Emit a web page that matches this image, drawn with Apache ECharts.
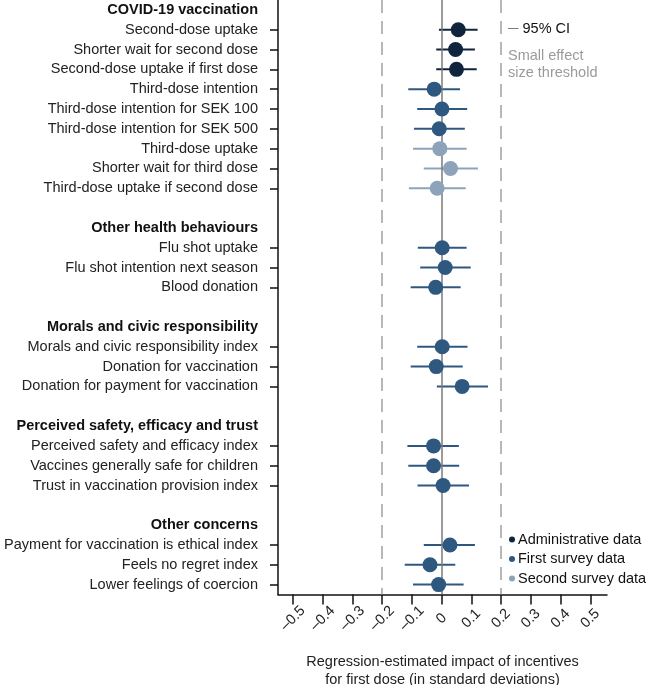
<!DOCTYPE html>
<html>
<head>
<meta charset="utf-8">
<script src="https://cdn.jsdelivr.net/npm/echarts@6/dist/echarts.min.js"></script>
<style>html,body{margin:0;padding:0;background:#fff}#c{width:649px;height:685px}</style>
</head>
<body>
<div id="c"></div>
<script>
// ---- Data ----
const rowLabels = [
  'COVID-19 vaccination',
  'Second-dose uptake',
  'Shorter wait for second dose',
  'Second-dose uptake if first dose',
  'Third-dose intention',
  'Third-dose intention for SEK 100',
  'Third-dose intention for SEK 500',
  'Third-dose uptake',
  'Shorter wait for third dose',
  'Third-dose uptake if second dose',
  '',
  'Other health behaviours',
  'Flu shot uptake',
  'Flu shot intention next season',
  'Blood donation',
  '',
  'Morals and civic responsibility',
  'Morals and civic responsibility index',
  'Donation for vaccination',
  'Donation for payment for vaccination',
  '',
  'Perceived safety, efficacy and trust',
  'Perceived safety and efficacy index',
  'Vaccines generally safe for children',
  'Trust in vaccination provision index',
  '',
  'Other concerns',
  'Payment for vaccination is ethical index',
  'Feels no regret index',
  'Lower feelings of coercion'
];
const groupHeaders = ['COVID-19 vaccination','Other health behaviours','Morals and civic responsibility','Perceived safety, efficacy and trust','Other concerns'];

const adminOutcomes = ['Second-dose uptake','Shorter wait for second dose','Second-dose uptake if first dose'];
const adminEst = [0.056, 0.047, 0.050];
const adminLo  = [-0.009, -0.018, -0.018];
const adminHi  = [0.121, 0.112, 0.118];

const firstOutcomes = ['Third-dose intention','Third-dose intention for SEK 100','Third-dose intention for SEK 500',
  'Flu shot uptake','Flu shot intention next season','Blood donation',
  'Morals and civic responsibility index','Donation for vaccination','Donation for payment for vaccination',
  'Perceived safety and efficacy index','Vaccines generally safe for children','Trust in vaccination provision index',
  'Payment for vaccination is ethical index','Feels no regret index','Lower feelings of coercion'];
const firstEst = [-0.025, 0.001, -0.008, 0.002, 0.012, -0.020, 0.002, -0.018, 0.069, -0.027, -0.027, 0.005, 0.028, -0.039, -0.010];
const firstLo  = [-0.112, -0.082, -0.093, -0.080, -0.072, -0.104, -0.082, -0.104, -0.016, -0.115, -0.112, -0.081, -0.060, -0.124, -0.096];
const firstHi  = [0.062, 0.086, 0.078, 0.084, 0.098, 0.064, 0.087, 0.071, 0.156, 0.058, 0.059, 0.092, 0.112, 0.046, 0.074];

const secondOutcomes = ['Third-dose uptake','Shorter wait for third dose','Third-dose uptake if second dose'];
const secondEst = [-0.006, 0.030, -0.015];
const secondLo  = [-0.096, -0.060, -0.110];
const secondHi  = [0.084, 0.122, 0.081];

const xTickValues = [-0.5, -0.4, -0.3, -0.2, -0.1, 0, 0.1, 0.2, 0.3, 0.4, 0.5];
const thresholdValues = [-0.2, 0.2];

// ---- Build ----
const FONT = '"Liberation Sans", Arial, sans-serif';
const FS = 14.5;
const C_ADMIN = '#10243d', C_FIRST = '#2f5880', C_SECOND = '#8ca3ba';

function rowIdx(name){ return rowLabels.indexOf(name); }
function isItem(i){ return rowLabels[i] !== '' && groupHeaders.indexOf(rowLabels[i]) < 0; }

function pointsData(outs, est){ return outs.map((o,i)=>[est[i], rowIdx(o)]); }
function ciData(outs, lo, hi){ return outs.map((o,i)=>[lo[i], hi[i], rowIdx(o)]); }

function ciSeries(name, outs, lo, hi, color){
  return {
    type: 'custom', name: name + ' CI', silent: true, z: 2,
    encode: {x: [0,1], y: 2},
    data: ciData(outs, lo, hi),
    renderItem: function(params, api){
      const a = api.coord([api.value(0), api.value(2)]);
      const b = api.coord([api.value(1), api.value(2)]);
      return {type:'line', shape:{x1:a[0], y1:a[1], x2:b[0], y2:b[1]},
              style:{stroke: color, lineWidth: 2}};
    }
  };
}
function ptSeries(name, outs, est, color){
  return {
    type: 'scatter', name: name, z: 5, symbol: 'circle', symbolSize: 15,
    itemStyle: {color: color, opacity: 1},
    data: pointsData(outs, est)
  };
}

const chart = echarts.init(document.getElementById('c'), null, {renderer: 'canvas'});
chart.setOption({
  animation: false,
  textStyle: {fontFamily: FONT},
  grid: {left: 278, top: 0, width: 329, height: 594.5, containLabel: false, outerBoundsMode: 'none'},
  xAxis: {
    type: 'value', min: -0.55, max: 0.556,
    splitLine: {show: false},
    axisLine: {show: true, onZero: false, lineStyle: {color: '#111', width: 1.5}},
    axisTick: {show: true, length: 10, customValues: xTickValues, lineStyle: {color: '#111', width: 1.5}},
    axisLabel: {
      customValues: xTickValues, rotate: 45, margin: 24, align: 'center', verticalAlign: 'middle',
      fontSize: FS, color: '#222', fontFamily: FONT,
      formatter: function(v){ const r = Math.round(v*10)/10; if (r === 0) return '0'; return r < 0 ? '\u2013' + Math.abs(r) : String(r); }
    },
    name: 'Regression-estimated impact of incentives\nfor first dose (in standard deviations)',
    nameLocation: 'middle', nameGap: 58,
    nameTextStyle: {fontSize: FS, color: '#222', lineHeight: 18, fontFamily: FONT}
  },
  yAxis: {
    type: 'category', inverse: true, data: rowLabels, boundaryGap: true,
    axisLine: {show: true, onZero: false, lineStyle: {color: '#111', width: 1.5}},
    axisTick: {show: true, alignWithLabel: true, length: 8, interval: function(i){ return isItem(i); },
               lineStyle: {color: '#111', width: 1.5}},
    axisLabel: {
      interval: 0, margin: 20, fontSize: FS, color: '#222', fontFamily: FONT,
      formatter: function(v){ if (!v) return ''; return groupHeaders.indexOf(v) >= 0 ? '{h|' + v + '}' : v; },
      rich: {h: {fontWeight: 'bold', fontSize: FS, color: '#111', fontFamily: FONT}}
    },
    splitLine: {show: false}
  },
  legend: {
    orient: 'vertical', left: 504, top: 527, itemWidth: 6, itemHeight: 6, itemGap: 4.5,
    icon: 'circle', data: ['Administrative data', 'First survey data', 'Second survey data'],
    textStyle: {fontSize: FS, color: '#111', fontFamily: FONT, padding: [0,0,0,-2]},
    selectedMode: false
  },
  graphic: [
    {type: 'text', left: 508, top: 21, style: {
      text: '{d|\u2014} 95% CI', font: FS + 'px ' + FONT, fill: '#111',
      rich: {d: {fill: '#555', fontSize: 10.5, fontFamily: FONT}}}},
    {type: 'text', left: 508, top: 47, style: {
      text: 'Small effect\nsize threshold', font: FS + 'px ' + FONT, fill: '#9a9a9a', lineHeight: 17}}
  ],
  series: [
    {
      type: 'scatter', name: 'refs', data: [], silent: true, z: 3,
      markLine: {
        silent: true, symbol: ['none','none'], label: {show: false}, animation: false,
        data: [
          {xAxis: 0, lineStyle: {color: '#7a7a7a', width: 1.5, type: 'solid'}},
          ...thresholdValues.map(v => ({xAxis: v, lineStyle: {color: '#a0a0a0', width: 1.5, type: [13, 8]}}))
        ]
      }
    },
    ciSeries('Administrative data', adminOutcomes, adminLo, adminHi, C_ADMIN),
    ciSeries('First survey data', firstOutcomes, firstLo, firstHi, C_FIRST),
    ciSeries('Second survey data', secondOutcomes, secondLo, secondHi, C_SECOND),
    ptSeries('Administrative data', adminOutcomes, adminEst, C_ADMIN),
    ptSeries('First survey data', firstOutcomes, firstEst, C_FIRST),
    ptSeries('Second survey data', secondOutcomes, secondEst, C_SECOND)
  ]
});
</script>
</body>
</html>
